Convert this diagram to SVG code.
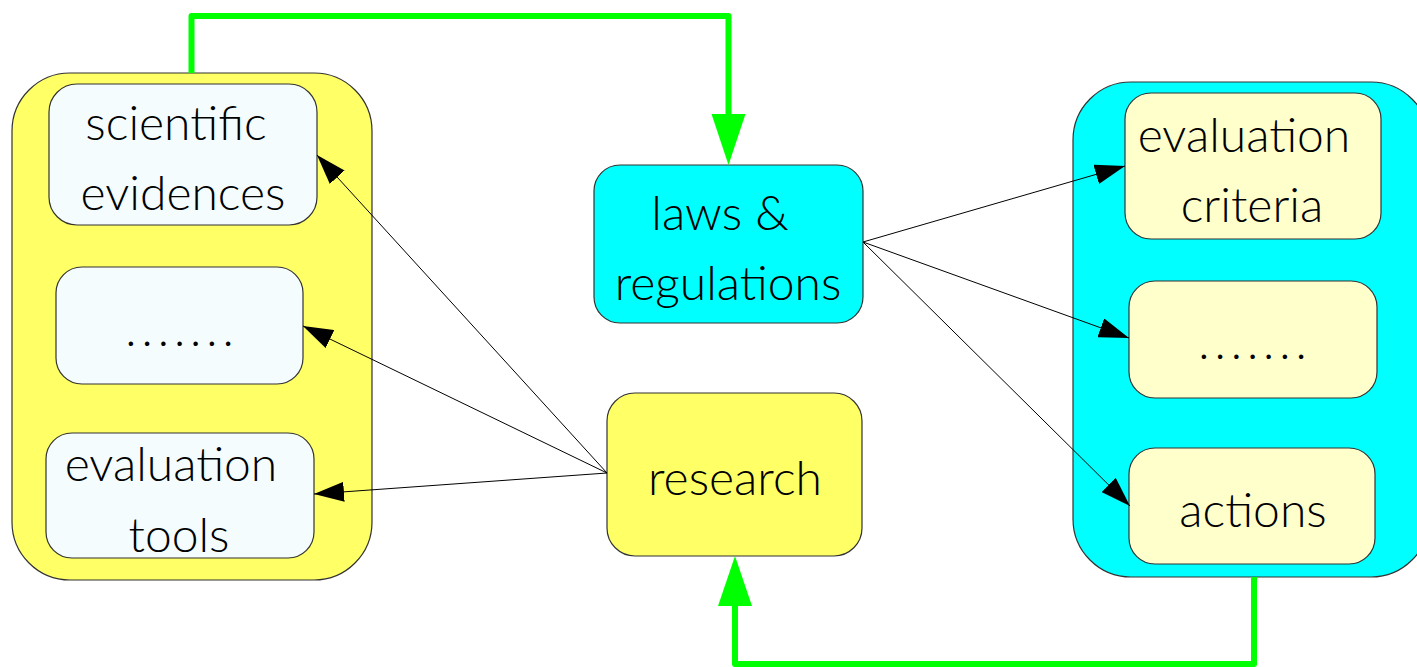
<svg xmlns="http://www.w3.org/2000/svg" width="1417" height="667" viewBox="0 0 1417 667">
  <style>
    .container { stroke: #333; stroke-width: 1.2; }
    .box { stroke: #333; stroke-width: 1.2; }
    .yellow { fill: #ffff66; }
    .cyan { fill: #00ffff; }
    .pale { fill: #f4fcfd; }
    .cream { fill: #ffffcc; }
    text { font-family: "Lato", "Liberation Sans", sans-serif; font-weight: 300; font-size: 48px; fill: #000; text-anchor: middle; }
    .dots { letter-spacing: 5px; }
    .thin { fill: none; stroke: #000; stroke-width: 1; }
    .flow { fill: none; stroke: #00ff00; stroke-width: 6; stroke-linejoin: round; }
  </style>
  <defs>
    <marker id="head" viewBox="0 0 30 20" refX="30" refY="10" markerWidth="30" markerHeight="20" markerUnits="userSpaceOnUse" orient="auto">
      <path d="M0,0 L30,10 L0,20 Z" fill="#000"/>
    </marker>
  </defs>

  <!-- left container -->
  <g id="left-group">
    <rect class="container yellow" x="12" y="73" width="360" height="507" rx="58"/>
  </g>
  <g id="scientific-evidences">
    <rect class="box pale" x="49" y="84" width="268" height="141" rx="28"/>
    <text x="176" y="140">scientific</text>
    <text x="183" y="210">evidences</text>
  </g>
  <g id="left-dots">
    <rect class="box pale" x="56" y="267" width="247" height="117" rx="26"/>
    <text class="dots" x="182" y="346">.......</text>
  </g>
  <g id="evaluation-tools">
    <rect class="box pale" x="46" y="433" width="268" height="125" rx="26"/>
    <text x="171" y="481">evaluation</text>
    <text x="179" y="552">tools</text>
  </g>

  <!-- center nodes -->
  <g id="laws-regulations">
    <rect class="box cyan" x="594" y="165" width="269" height="158" rx="26"/>
    <text x="720" y="230">laws &amp;</text>
    <text x="728" y="300">regulations</text>
  </g>
  <g id="research">
    <rect class="box yellow" x="607" y="393" width="255" height="163" rx="28"/>
    <text x="735" y="495">research</text>
  </g>

  <!-- right container -->
  <g id="right-group">
    <rect class="container cyan" x="1073" y="82" width="356" height="495" rx="58"/>
  </g>
  <g id="evaluation-criteria">
    <rect class="box cream" x="1125" y="93" width="256" height="146" rx="26"/>
    <text x="1244" y="152">evaluation</text>
    <text x="1252" y="222">criteria</text>
  </g>
  <g id="right-dots">
    <rect class="box cream" x="1129" y="281" width="248" height="117" rx="26"/>
    <text class="dots" x="1255" y="359">.......</text>
  </g>
  <g id="actions">
    <rect class="box cream" x="1129" y="448" width="246" height="116" rx="26"/>
    <text x="1253" y="527">actions</text>
  </g>

  <!-- connectors -->
  <g id="connectors">
    <line class="thin" x1="607" y1="473" x2="317" y2="155" marker-end="url(#head)"/>
    <line class="thin" x1="607" y1="473" x2="303" y2="326" marker-end="url(#head)"/>
    <line class="thin" x1="607" y1="473" x2="314" y2="494" marker-end="url(#head)"/>
    <line class="thin" x1="863" y1="242" x2="1125" y2="166" marker-end="url(#head)"/>
    <line class="thin" x1="863" y1="242" x2="1129" y2="338" marker-end="url(#head)"/>
    <line class="thin" x1="863" y1="242" x2="1130" y2="506" marker-end="url(#head)"/>

    <polyline class="flow" points="191.5,73 191.5,16 728.5,16 728.5,116"/>
    <polygon points="711.5,114 745.5,114 728.5,165" fill="#00ff00"/>

    <polyline class="flow" points="1254,577 1254,664 735,664 735,604"/>
    <polygon points="718,606 752,606 735,556" fill="#00ff00"/>
  </g>
</svg>
